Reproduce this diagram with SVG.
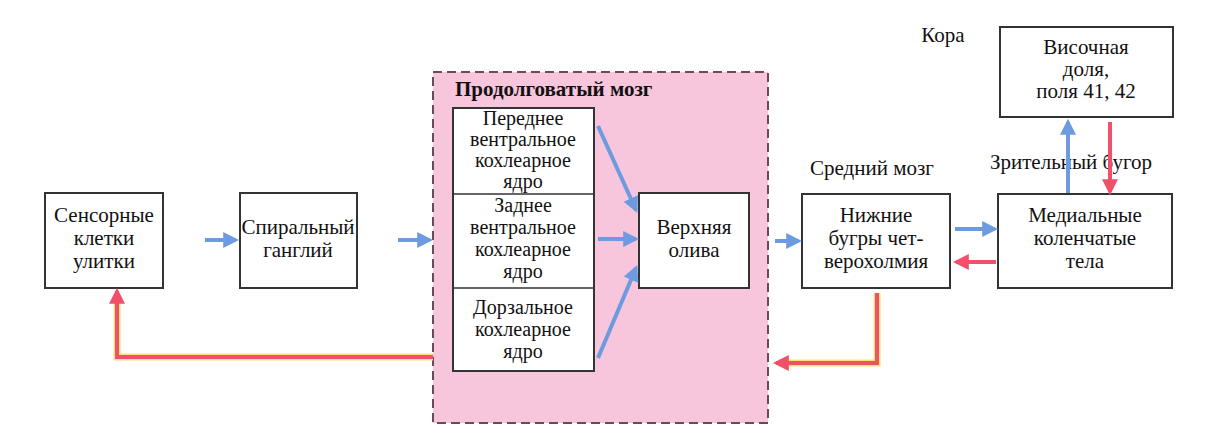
<svg xmlns="http://www.w3.org/2000/svg" width="1223" height="435" viewBox="0 0 1223 435" font-family="'Liberation Serif', 'DejaVu Serif', serif">
<style>
.b{fill:#fff;stroke:#333;stroke-width:2}
text{font-family:'Liberation Serif','DejaVu Serif',serif;font-size:21px;fill:#111;text-anchor:middle}
.l{text-anchor:start}
.s{font-size:20px}
.bl{stroke:#6e9be0;stroke-width:4;fill:none}
.rd{stroke:#f0506a;stroke-width:4;fill:none}
.ry{stroke:#f6e27a;stroke-width:7;fill:none}
</style>
<defs>
<marker id="ab" viewBox="0 0 10 10" refX="8" refY="5" markerWidth="4" markerHeight="4" orient="auto"><path d="M0,0L10,5L0,10z" fill="#6e9be0"/></marker>
<marker id="ar" viewBox="0 0 10 10" refX="8" refY="5" markerWidth="4" markerHeight="4" orient="auto"><path d="M0,0L10,5L0,10z" fill="#f0506a"/></marker>
</defs>
<rect width="1223" height="435" fill="#fff"/>
<g id="medulla">
<rect x="433" y="72" width="335" height="351" fill="#f7c5dc" stroke="#6a4a55" stroke-width="2" stroke-dasharray="9,5"/>
<text x="455" y="96" class="l" font-weight="bold">Продолговатый мозг</text>
</g>
<g id="sensory"><rect class="b" x="45" y="193" width="118" height="95"/><text x="104" y="222">Сенсорные</text><text x="104" y="245">клетки</text><text x="104" y="268">улитки</text></g>
<g id="spiral"><rect class="b" x="240" y="193" width="117" height="95"/><text x="298" y="234">Спиральный</text><text x="298" y="257">ганглий</text></g>
<g id="nuclei"><rect class="b" x="453" y="108" width="141" height="263"/>
<line x1="453" y1="194" x2="594" y2="194" stroke="#333" stroke-width="1.5"/><line x1="453" y1="288" x2="594" y2="288" stroke="#333" stroke-width="1.5"/>
<text class="s" x="523" y="125">Переднее</text><text class="s" x="523" y="146">вентральное</text><text class="s" x="523" y="167">кохлеарное</text><text class="s" x="523" y="188">ядро</text>
<text class="s" x="523" y="212">Заднее</text><text class="s" x="523" y="234">вентральное</text><text class="s" x="523" y="256">кохлеарное</text><text class="s" x="523" y="278">ядро</text>
<text class="s" x="523" y="314">Дорзальное</text><text class="s" x="523" y="336">кохлеарное</text><text class="s" x="523" y="358">ядро</text></g>
<g id="olive"><rect class="b" x="639" y="193" width="110" height="95"/><text x="694" y="234">Верхняя</text><text x="694" y="257">олива</text></g>
<g id="colliculi"><rect class="b" x="802" y="194" width="148" height="94"/><text x="876" y="222">Нижние</text><text x="876" y="245">бугры чет-</text><text x="876" y="268">верохолмия</text></g>
<g id="mgb"><rect class="b" x="998" y="194" width="174" height="94"/><text x="1085" y="222">Медиальные</text><text x="1085" y="245">коленчатые</text><text x="1085" y="268">тела</text></g>
<g id="cortex"><rect class="b" x="1000" y="27" width="173" height="90"/><text x="1086" y="54">Височная</text><text x="1086" y="76">доля,</text><text x="1086" y="98">поля 41, 42</text></g>
<g id="labels"><text x="943" y="42">Кора</text><text x="872" y="175">Средний мозг</text><text x="1071" y="169">Зрительный бугор</text></g>
<g id="connectors">
<path class="bl" d="M205,240H236" marker-end="url(#ab)"/>
<path class="bl" d="M398,240H430" marker-end="url(#ab)"/>
<path class="bl" d="M598,126L636,210" marker-end="url(#ab)"/>
<path class="bl" d="M598,239H636" marker-end="url(#ab)"/>
<path class="bl" d="M598,358L636,268" marker-end="url(#ab)"/>
<path class="bl" d="M775,241H799" marker-end="url(#ab)"/>
<path class="bl" d="M955,229H995" marker-end="url(#ab)"/>
<path class="rd" d="M996,262H956" marker-end="url(#ar)"/>
<path class="bl" d="M1068,193V122" marker-end="url(#ab)"/>
<path class="rd" d="M1110,122V192" marker-end="url(#ar)"/>
<path class="ry" d="M877,293V363H778"/>
<path class="rd" d="M877,293V363H776" marker-end="url(#ar)"/>
<path class="ry" d="M433,357H117V300"/>
<path class="rd" d="M433,357H117V291" marker-end="url(#ar)"/>
</g>
</svg>
